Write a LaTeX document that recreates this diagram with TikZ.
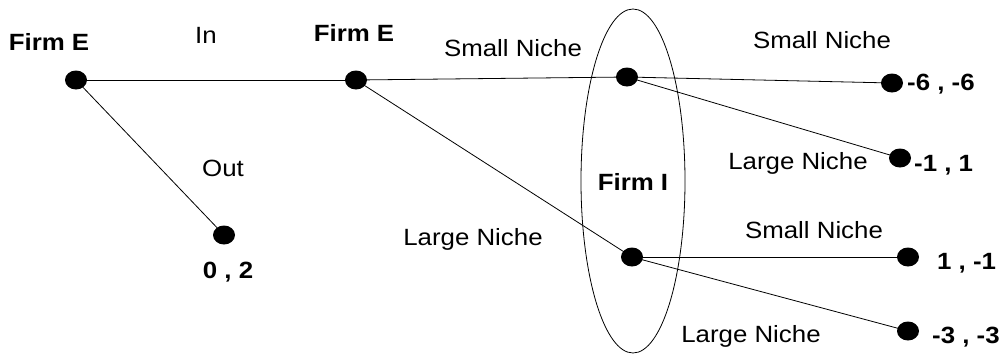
\documentclass[tikz,border=0pt]{standalone}
\usepackage{fontspec}
\usepackage{graphicx}
\usetikzlibrary{shapes.geometric}
\setmainfont{Liberation Sans}
\newcommand{\wide}[1]{\scalebox{1.1}[1]{#1}}
\begin{document}
\begin{tikzpicture}[x=1pt,y=-1pt,
  dotnode/.style={ellipse,fill=black,minimum width=22pt,minimum height=19pt,inner sep=0pt},
  lbl/.style={font=\fontsize{23.5}{27}\selectfont,inner sep=0pt},
  blbl/.style={font=\fontsize{23.5}{27}\selectfont\bfseries,inner sep=0pt},
  edge/.style={line width=0.8pt}]
\useasboundingbox (0,0) rectangle (1002,354);
% information set
\draw[line width=0.8pt] (633,181) ellipse [x radius=52, y radius=172];
% nodes
\node[dotnode] (a) at (76,80) {};
\node[dotnode] (b) at (356,80) {};
\node[dotnode] (o) at (224,235) {};
\node[dotnode] (c) at (627,77) {};
\node[dotnode] (f) at (632,257) {};
\node[dotnode] (d) at (892,83) {};
\node[dotnode] (e) at (900,158) {};
\node[dotnode] (g) at (908,257) {};
\node[dotnode] (h) at (908,331) {};
% edges
\draw[edge] (a.center) -- (b.center);
\draw[edge] (a.center) -- (o.center);
\draw[edge] (b.center) -- (c.center);
\draw[edge] (b.center) -- (f.center);
\draw[edge] (c.center) -- (d.center);
\draw[edge] (c.center) -- (e.center);
\draw[edge] (f.center) -- (g.center);
\draw[edge] (f.center) -- (h.center);
% labels
\node[blbl] (la) at (49,42) {\wide{Firm E}};
\node[blbl] (lb) at (354,33) {\wide{Firm E}};
\node[blbl] (li) at (633,182) {\wide{Firm I}};
\node[lbl] (lin) at (206,35) {\wide{In}};
\node[lbl] (lout) at (223,168) {\wide{Out}};
\node[lbl] (ls1) at (513,48) {\wide{Small Niche}};
\node[lbl] (ll1) at (473,239) {\wide{Large Niche}};
\node[lbl] (ls2) at (822,40) {\wide{Small Niche}};
\node[lbl] (ll2) at (798,163) {\wide{Large Niche}};
\node[lbl] (ls3) at (814,230) {\wide{Small Niche}};
\node[lbl] (ll3) at (751,336) {\wide{Large Niche}};
\node[blbl,anchor=west] (pd) at (907,84) {\wide{-6 , -6}};
\node[blbl,anchor=west] (pe) at (914,165) {\wide{-1 , 1}};
\node[blbl,anchor=west] (pg) at (937,263) {\wide{1 , -1}};
\node[blbl,anchor=west] (ph) at (932,337) {\wide{-3 , -3}};
\node[blbl] (po) at (228,272) {\wide{0 , 2}};
\end{tikzpicture}
\end{document}
